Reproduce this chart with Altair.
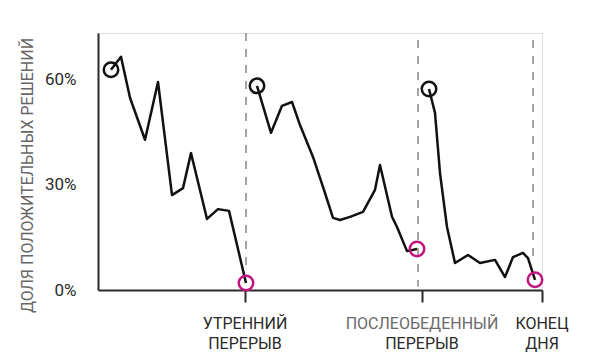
import altair as alt
import pandas as pd

# Time (arbitrary units along the working day) and share of favourable decisions (%)
seg1_t = [13, 23, 32, 47, 60, 74, 85, 93, 109, 120, 131, 148]
seg1_v = [62.9, 66.6, 54.9, 42.9, 59.4, 27.1, 29.1, 39.1, 20.3, 23.1, 22.6, 2.0]

seg2_t = [159, 173, 184, 194, 202, 215, 227, 235, 242, 252, 265, 277, 282, 294, 299, 309, 319]
seg2_v = [58.3, 44.9, 52.6, 53.7, 47.1, 38.0, 27.7, 20.6, 20.0, 20.9, 22.3, 28.6, 35.7, 20.9, 18.0, 11.1, 11.7]

seg3_t = [331, 337, 342, 349, 357, 370, 382, 397, 407, 415, 425, 430, 437]
seg3_v = [57.4, 50.6, 33.4, 18.0, 7.7, 10.0, 7.7, 8.6, 3.7, 9.4, 10.6, 9.1, 2.9]

break_t = [148, 320, 435]          # dashed break lines
break_top = [73.4, 71.4, 71.4]
break_bottom = [6.5, 1.0, 8.0]
tick_t = [147, 324, 444]            # axis ticks / label centres
label_line1 = ["УТРЕННИЙ", "ПОСЛЕОБЕДЕННЫЙ", "КОНЕЦ"]
label_line2 = ["ПЕРЕРЫВ", "ПЕРЕРЫВ", "ДНЯ"]
label_color1 = ["#2a2a2a", "#6a6a6a", "#2a2a2a"]
y_ticks = [0, 30, 60]

FONT = "Roboto, Noto Sans, sans-serif"
MAGENTA = "#c0157f"

segs = [(seg1_t, seg1_v), (seg2_t, seg2_v), (seg3_t, seg3_v)]
rows = []
for i, (ts, vs) in enumerate(segs):
    for t, v in zip(ts, vs):
        rows.append({"t": t, "v": v, "seg": i})
line_df = pd.DataFrame(rows)

starts = pd.DataFrame([{"t": ts[0], "v": vs[0]} for ts, vs in segs])
ends = pd.DataFrame([{"t": ts[-1], "v": vs[-1]} for ts, vs in segs])
breaks = pd.DataFrame({"t": break_t, "top": break_top, "bottom": break_bottom})
labels = pd.DataFrame({"t": tick_t, "l1": label_line1, "l2": label_line2, "c1": label_color1})

xscale = alt.Scale(domain=[0, 444], nice=False, zero=False)
yscale = alt.Scale(domain=[0, 73.4], nice=False)

x_axis = alt.Axis(
    values=tick_t, labels=False, title=None, grid=False,
    domainColor="#2a2a2a", domainWidth=2,
    tickColor="#2a2a2a", tickWidth=2, tickSize=12,
)
y_axis = alt.Axis(
    values=y_ticks, grid=False, ticks=False,
    domainColor="#2a2a2a", domainWidth=2,
    labelExpr="datum.value + '%'", labelFont=FONT, labelFontSize=17,
    labelColor="#2a2a2a", labelPadding=22,
    title="ДОЛЯ ПОЛОЖИТЕЛЬНЫХ РЕШЕНИЙ", titleFont=FONT, titleFontSize=16,
    titleFontWeight="normal", titleColor="#666666",
    titleX=-63, titleY=142,
)

line = alt.Chart(line_df).mark_line(
    color="#111111", strokeWidth=2.5, strokeJoin="round"
).encode(
    x=alt.X("t:Q", scale=xscale, axis=x_axis),
    y=alt.Y("v:Q", scale=yscale, axis=y_axis),
    detail="seg:N",
)

dashed = alt.Chart(breaks).mark_rule(
    color="#888888", strokeWidth=1.5, strokeDash=[8, 8]
).encode(
    x=alt.X("t:Q", scale=xscale),
    y=alt.Y("top:Q", scale=yscale),
    y2="bottom:Q",
)

start_pts = alt.Chart(starts).mark_point(
    shape="circle", size=210, filled=False, color="#111111", strokeWidth=2.5, opacity=1
).encode(x=alt.X("t:Q", scale=xscale), y=alt.Y("v:Q", scale=yscale))

end_pts = alt.Chart(ends).mark_point(
    shape="circle", size=210, filled=False, color=MAGENTA, strokeWidth=2.5, opacity=1
).encode(x=alt.X("t:Q", scale=xscale), y=alt.Y("v:Q", scale=yscale))

text1 = alt.Chart(labels).mark_text(
    font=FONT, fontSize=16, baseline="middle", align="center"
).encode(
    x=alt.X("t:Q", scale=xscale), y=alt.value(291),
    text="l1:N", color=alt.Color("c1:N", scale=None),
)
text2 = alt.Chart(labels).mark_text(
    font=FONT, fontSize=16, baseline="middle", align="center", color="#2a2a2a"
).encode(
    x=alt.X("t:Q", scale=xscale), y=alt.value(311), text="l2:N",
)

chart = alt.layer(dashed, line, start_pts, end_pts, text1, text2).properties(
    width=444, height=257,
    autosize=alt.AutoSizeParams(type="none"),
    padding={"left": 90, "top": 25, "right": 50, "bottom": 62},
).configure_view(stroke=None).configure(background="white")

chart.save("out.html", embed_options={"renderer": "svg", "actions": False})
